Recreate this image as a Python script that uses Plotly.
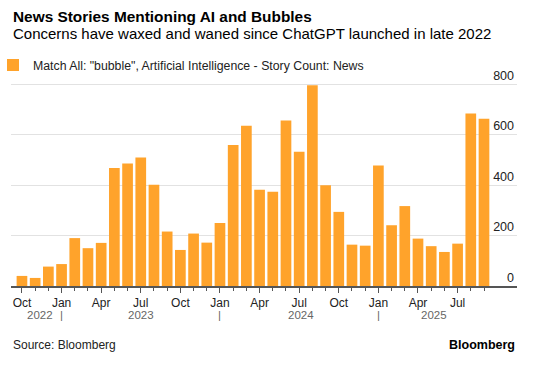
import plotly.graph_objects as go

months = ["Oct", "Nov", "Dec",
          "Jan", "Feb", "Mar", "Apr", "May", "Jun", "Jul", "Aug", "Sep", "Oct", "Nov", "Dec",
          "Jan", "Feb", "Mar", "Apr", "May", "Jun", "Jul", "Aug", "Sep", "Oct", "Nov", "Dec",
          "Jan", "Feb", "Mar", "Apr", "May", "Jun", "Jul", "Aug", "Sep"]
values = [40, 32, 77,
          87, 190, 150, 171, 468, 486, 510, 402, 216, 143, 208, 172,
          250, 559, 636, 382, 374, 656, 532, 796, 400, 294, 164, 160,
          478, 241, 317, 188, 158, 135, 168, 684, 663]
year_labels = ["2022", "2023", "2024", "2025"]
year_pos = [1.4, 9.0, 21.1, 31.25]
year_sep_pos = [3, 15, 27]
y_ticks = [0, 200, 400, 600, 800]

idx = list(range(len(values)))
major_idx = [i for i in idx if i % 3 == 0]
major_txt = [months[i] for i in major_idx]

ORANGE = "#FFA32B"
FONT = "Liberation Sans"
T, B = 64, 89
PLOT_H = 375 - T - B
Y_MAX = PLOT_H / (201.7 / 800)

fig = go.Figure()
fig.add_trace(go.Bar(
    x=idx, y=values, marker_color=ORANGE, marker_line_width=0,
    name='Match All: "bubble", Artificial Intelligence - Story Count: News',
    showlegend=True, hoverinfo="skip",
))

annotations = [
    dict(text="<b>News Stories Mentioning AI and Bubbles</b>", xref="paper", yref="paper",
         x=0, y=1, yshift=T - 16, xanchor="left", yanchor="middle", showarrow=False,
         font=dict(family=FONT, size=15.4, color="#000")),
    dict(text="Concerns have waxed and waned since ChatGPT launched in late 2022",
         xref="paper", yref="paper", x=0, y=1, yshift=T - 33.5, xanchor="left", yanchor="middle",
         showarrow=False, font=dict(family=FONT, size=15, color="#000")),
    dict(text="Source: Bloomberg", xref="paper", yref="paper", x=0, y=0, yshift=-59,
         xanchor="left", yanchor="middle", showarrow=False,
         font=dict(family=FONT, size=12, color="#222")),
    dict(text="<b>Bloomberg</b>", xref="paper", yref="paper", x=1, y=0, yshift=-59,
         xanchor="right", yanchor="middle", showarrow=False,
         font=dict(family=FONT, size=12.5, color="#000")),
]
for lab, p in zip(year_labels, year_pos):
    annotations.append(dict(text=lab, xref="x", yref="paper", x=p, y=0, yshift=-28.5,
                            xanchor="center", yanchor="middle", showarrow=False,
                            font=dict(family=FONT, size=11.5, color="#666")))
for p in year_sep_pos:
    annotations.append(dict(text="|", xref="x", yref="paper", x=p, y=0, yshift=-28.5,
                            xanchor="center", yanchor="middle", showarrow=False,
                            font=dict(family=FONT, size=11.5, color="#666")))

fig.update_layout(
    width=549, height=375,
    margin=dict(l=11, r=32, t=T, b=B, pad=0, autoexpand=False),
    paper_bgcolor="white", plot_bgcolor="white",
    bargap=0.19,
    font=dict(family=FONT, size=12, color="#333"),
    showlegend=True,
    legend=dict(orientation="h", x=-18 / 506, xanchor="left",
                y=1 - 1 / PLOT_H, yanchor="middle",
                font=dict(family=FONT, size=12.3, color="#222"),
                itemwidth=30, bgcolor="rgba(0,0,0,0)"),
    annotations=annotations,
    xaxis=dict(
        range=[-0.83, 37.5], tickmode="array", tickvals=major_idx, ticktext=major_txt,
        ticks="outside", ticklen=5, tickcolor="#555", tickwidth=1,
        showline=True, linecolor="#555", linewidth=1.5,
        showgrid=False, zeroline=False, fixedrange=True, automargin=False,
        tickfont=dict(family=FONT, size=12, color="#222"),
        minor=dict(tickmode="linear", tick0=0, dtick=1, ticks="outside", ticklen=3,
                   tickcolor="#555", showgrid=False),
    ),
    yaxis=dict(
        range=[0, Y_MAX], side="right", tickmode="array", tickvals=y_ticks,
        ticklabelposition="inside top", showgrid=True, gridcolor="#e2e2e2", gridwidth=1,
        zeroline=False, showline=False, ticks="", automargin=False, fixedrange=True,
        tickfont=dict(family=FONT, size=12.5, color="#222"),
    ),
)
fig.write_html("out.html", config={"displayModeBar": False},
               post_script="document.body.style.margin='0';")
